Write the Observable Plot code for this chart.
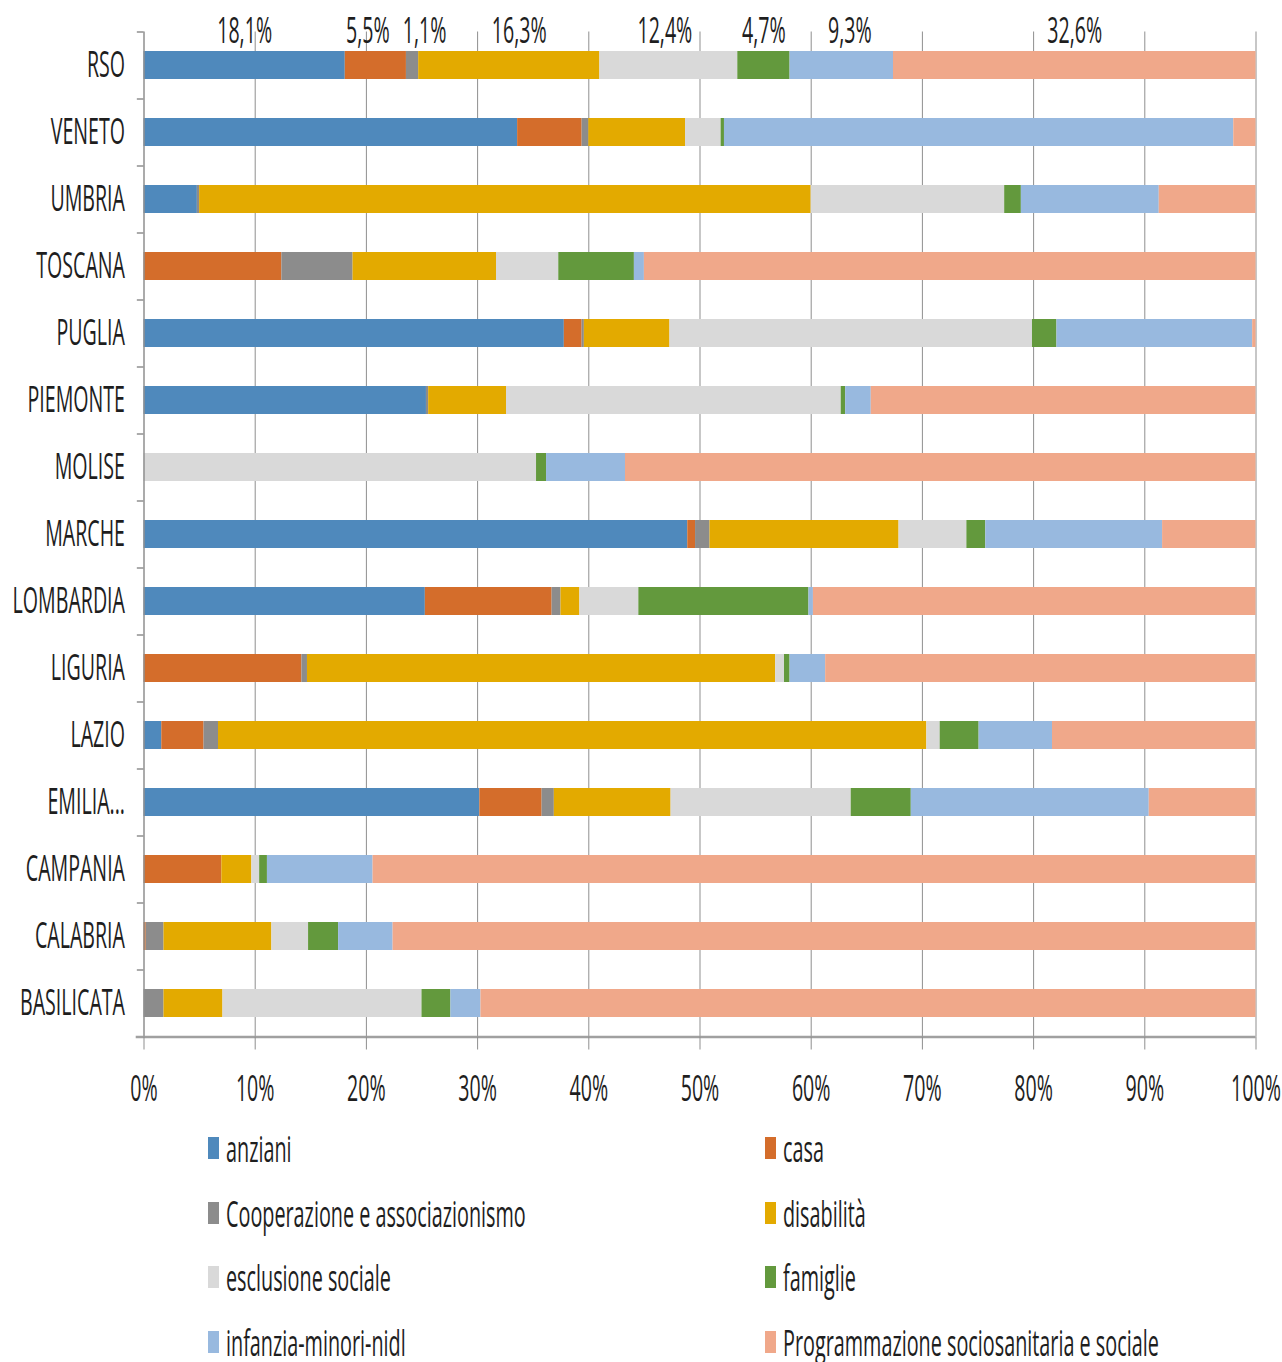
<!DOCTYPE html>
<html><head><meta charset="utf-8">
<script src="https://cdn.jsdelivr.net/npm/d3@7"></script>
<script src="https://cdn.jsdelivr.net/npm/@observablehq/plot@0.6"></script>
<style>
body{margin:0;background:#fff;font-family:"Open Sans",sans-serif;color:#1e1e1e;}
#legend{display:grid;grid-template-columns:557px 500px;grid-auto-rows:64.5px;padding-left:208px;margin-top:-2px;}
.item{display:flex;align-items:center;white-space:nowrap;}
.sw{width:11px;height:22px;margin-right:7px;flex:none;}
.lab{display:inline-block;font-size:37px;line-height:34px;transform:scaleX(0.535);transform-origin:left center;}
</style></head><body>
<div id="chart"></div><div id="legend"></div>
<script>
const regions = ["RSO","VENETO","UMBRIA","TOSCANA","PUGLIA","PIEMONTE","MOLISE","MARCHE","LOMBARDIA","LIGURIA","LAZIO","EMILIA...","CAMPANIA","CALABRIA","BASILICATA"];
const categories = ["anziani","casa","Cooperazione e associazionismo","disabilità","esclusione sociale","famiglie","infanzia-minori-nidl","Programmazione sociosanitaria e sociale"];
const colors = ["#4f89bc","#d46d2b","#8c8c8c","#e3aa00","#d9d9d9","#63993d","#98b9df","#f0a88a"];
const anziani        = [18.1,33.6, 4.8, 0,  37.8,25.4, 0,  48.9,25.3, 0,   1.6,30.2, 0,   0,   0];
const casa           = [ 5.5, 5.8, 0,  12.4, 1.6, 0,   0,   0.7,11.4,14.2, 3.8, 5.6, 7.0, 0.2, 0];
const cooperazione   = [ 1.1, 0.6, 0.2, 6.4, 0.2, 0.2, 0,   1.3, 0.8, 0.5, 1.3, 1.1, 0,   1.6, 1.8];
const disabilita     = [16.3, 8.7,55.0,12.9, 7.7, 7.0, 0,  17.0, 1.7,42.1,63.7,10.5, 2.7, 9.7, 5.3];
const esclusione     = [12.4, 3.2,17.4, 5.6,32.6,30.1,35.3, 6.1, 5.3, 0.8, 1.2,16.2, 0.7, 3.3,17.9];
const famiglie       = [ 4.7, 0.3, 1.5, 6.8, 2.2, 0.4, 0.9, 1.7,15.3, 0.5, 3.5, 5.4, 0.7, 2.7, 2.6];
const infanzia       = [ 9.3,45.8,12.4, 0.9,17.6, 2.3, 7.1,15.9, 0.4, 3.2, 6.6,21.4, 9.5, 4.9, 2.7];
const programmazione = [32.6, 2.0, 8.7,55.0, 0.3,34.6,56.7, 8.4,39.8,38.7,18.3, 9.6,79.4,77.6,69.7];
const xTicks = [0,10,20,30,40,50,60,70,80,90,100];

const series = [anziani,casa,cooperazione,disabilita,esclusione,famiglie,infanzia,programmazione];
const data = [];
regions.forEach((r,i)=>categories.forEach((c,j)=>data.push({region:r,cat:c,value:series[j][i]})));
const rso = data.filter(d=>d.region==="RSO");
const fmt = v => d3.format(".1f")(v).replace(".",",")+"%";

const W=1282,H=1118,mt=31.5,mb=81.5,ml=143.5,mr=26.5;
const step=(H-mt-mb)/regions.length, half=step/2;
const SQ=0.53;
const ink="#1e1e1e", grid="#8f8f8f";
// small label nudges (Excel-style manual placement of the RSO labels)
const nudge = [0,-8,12,10,-4,0,8,0];

const labelMarks = categories.map((c,j)=>Plot.text(rso,Plot.stackX({x:"value",y:"region",z:"cat",order:categories,
  text:d=>d.cat===c?fmt(d.value):undefined,dy:-34,dx:nudge[j],fill:ink})));

const svg = Plot.plot({
  width:W,height:H,marginTop:mt,marginBottom:mb,marginLeft:ml,marginRight:mr,
  style:{fontSize:"37px",fontFamily:"'Open Sans',sans-serif",color:ink,background:"#fff"},
  x:{domain:[0,100]},
  y:{domain:regions,paddingInner:0.58,paddingOuter:0.29},
  color:{domain:categories,range:colors},
  marks:[
    Plot.ruleX(xTicks.slice(1),{stroke:grid,strokeWidth:1}),
    Plot.barX(data,{x:"value",y:"region",fill:"cat",order:categories}),
    Plot.ruleX([0],{stroke:grid,strokeWidth:1.5}),
    Plot.ruleY(regions,{y:d=>d,x1:-0.6,x2:0,dy:-half,stroke:grid,strokeWidth:1.5}),
    Plot.ruleY([regions[regions.length-1]],{x1:-0.7,x2:100,dy:half,stroke:"#a0a0a0",strokeWidth:2.5}),
    Plot.axisX({ticks:xTicks,tickFormat:d=>d+"%",tickSize:13,tickPadding:25,stroke:grid,fill:ink,label:null}),
    Plot.axisY({tickSize:0,tickPadding:19,fill:ink,label:null}),
    ...labelMarks
  ]
});
document.getElementById("chart").append(svg);
svg.querySelectorAll("text").forEach(t=>{
  const L=t.getComputedTextLength();
  if(L>0){t.setAttribute("textLength",(L*SQ).toFixed(1));t.setAttribute("lengthAdjust","spacingAndGlyphs");}
});

const legend=document.getElementById("legend");
categories.forEach((c,i)=>{
  const it=document.createElement("div");it.className="item";
  const sw=document.createElement("span");sw.className="sw";sw.style.background=colors[i];
  const lb=document.createElement("span");lb.className="lab";lb.textContent=c;
  it.append(sw,lb);legend.append(it);
});
</script>
</body></html>
